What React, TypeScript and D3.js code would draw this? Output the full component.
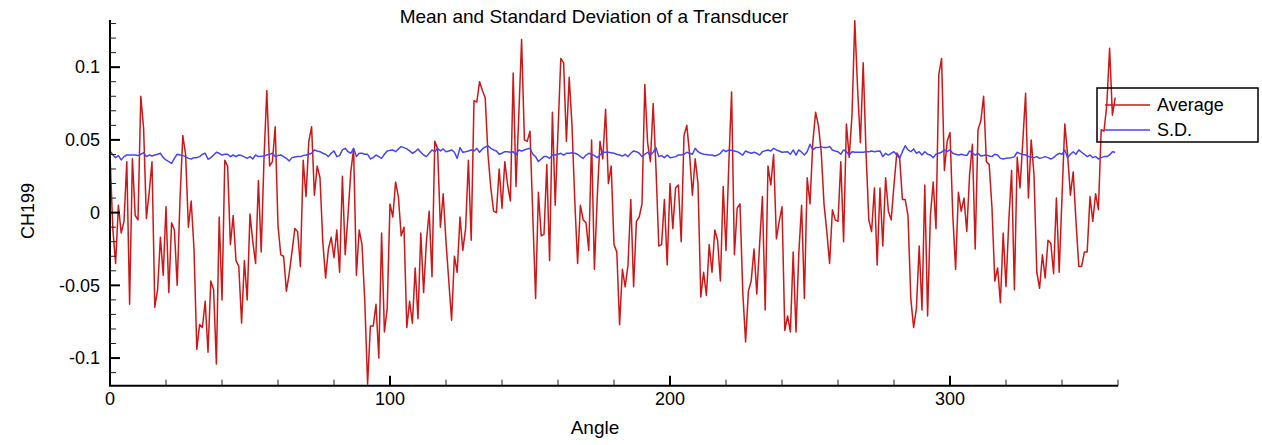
import { useEffect, useRef } from 'react';
import * as d3 from 'd3';

// one sample per degree, 0..359
const angles = d3.range(0, 360);

const average = [
  0.040, -0.011, -0.035, 0.005, -0.014, -0.006, 0.035, -0.063, 0.037, -0.002,
  -0.005, 0.080, 0.058, -0.004, 0.014, 0.035, -0.065, -0.053, -0.017, -0.043,
  0.004, -0.055, -0.007, -0.012, -0.050, 0.009, 0.053, 0.040, -0.010, 0.008,
  -0.025, -0.094, -0.077, -0.079, -0.061, -0.096, -0.047, -0.053, -0.104, -0.003,
  -0.060, 0.036, 0.032, -0.022, -0.002, -0.033, -0.037, -0.076, -0.033, -0.060,
  -0.001, -0.020, -0.035, 0.022, -0.027, 0.037, 0.084, 0.032, 0.035, 0.059,
  -0.009, -0.029, -0.030, -0.054, -0.042, -0.027, -0.011, -0.013, -0.037, 0.036,
  0.011, 0.049, 0.059, 0.012, 0.032, 0.024, -0.020, -0.045, -0.025, -0.017,
  -0.031, -0.012, -0.041, 0.025, -0.029, -0.002, 0.028, 0.044, -0.043, -0.012,
  -0.022, -0.061, -0.118, -0.078, -0.078, -0.063, -0.100, -0.014, -0.082, -0.066,
  0.006, -0.003, 0.021, 0.011, -0.016, -0.010, -0.079, -0.061, -0.076, -0.038,
  -0.073, -0.014, -0.055, -0.020, 0.001, -0.044, 0.049, 0.044, -0.010, 0.013,
  -0.020, -0.047, -0.074, -0.030, -0.041, -0.003, -0.026, -0.011, 0.036, -0.019,
  0.077, 0.076, 0.090, 0.084, 0.079, 0.040, 0.017, 0.001, 0.000, 0.030,
  0.003, 0.035, 0.019, 0.008, 0.096, 0.018, 0.067, 0.119, 0.050, 0.049,
  0.056, -0.002, -0.059, 0.014, -0.016, -0.015, 0.033, -0.033, 0.069, 0.005,
  0.056, 0.106, 0.103, 0.049, 0.093, 0.060, 0.008, -0.035, 0.005, -0.005,
  -0.007, -0.026, 0.050, -0.039, 0.010, 0.049, 0.037, 0.071, 0.020, 0.032,
  -0.022, -0.027, -0.077, -0.039, -0.051, -0.036, 0.009, -0.051, -0.006, -0.003,
  0.006, 0.088, 0.048, 0.035, 0.075, 0.030, -0.023, -0.022, 0.009, -0.036,
  0.020, -0.011, 0.017, 0.019, -0.020, 0.053, 0.060, 0.040, 0.012, 0.037,
  0.020, -0.058, -0.041, -0.057, -0.022, -0.041, -0.012, -0.019, -0.047, 0.018,
  -0.026, 0.033, 0.083, -0.029, 0.003, 0.006, -0.055, -0.089, -0.054, -0.047,
  -0.025, -0.056, -0.022, 0.011, -0.067, 0.032, 0.019, 0.040, -0.018, -0.006,
  0.004, -0.081, -0.071, -0.082, -0.027, -0.082, -0.028, 0.005, -0.059, 0.024,
  0.006, 0.048, 0.069, 0.060, 0.042, 0.006, -0.013, -0.035, 0.002, -0.005,
  -0.006, 0.035, -0.020, 0.061, 0.038, 0.067, 0.132, 0.085, 0.048, 0.103,
  0.042, -0.005, -0.013, 0.017, -0.036, 0.017, -0.023, 0.024, 0.001, -0.005,
  0.019, 0.041, 0.038, 0.009, 0.009, -0.002, -0.059, -0.079, -0.066, -0.023,
  -0.067, 0.019, -0.071, -0.002, 0.021, -0.011, 0.095, 0.106, 0.029, 0.049,
  0.055, -0.002, -0.039, 0.014, 0.001, 0.010, -0.013, 0.026, 0.047, -0.025,
  0.057, 0.063, 0.080, 0.035, 0.033, 0.003, -0.047, -0.038, -0.062, -0.014,
  -0.051, -0.006, 0.029, -0.053, 0.038, 0.017, 0.049, 0.082, 0.010, 0.050,
  0.026, -0.041, -0.052, -0.029, -0.045, -0.019, -0.021, -0.042, 0.010, -0.041,
  0.011, 0.061, 0.040, 0.012, 0.028, -0.006, -0.037, -0.037, -0.027, -0.027,
  0.011, -0.006, 0.013, 0.002, 0.057, 0.056, 0.074, 0.113, 0.067, 0.079,
];

const sd = [
  0.0424, 0.0396, 0.0378, 0.0392, 0.0362, 0.0385, 0.0396, 0.0396, 0.0396, 0.0396,
  0.0392, 0.0401, 0.0412, 0.0385, 0.0396, 0.0389, 0.0396, 0.0401, 0.0408, 0.0378,
  0.0362, 0.0351, 0.0339, 0.0373, 0.0401, 0.0396, 0.0392, 0.0385, 0.0373, 0.0369,
  0.0378, 0.0378, 0.0385, 0.0401, 0.0408, 0.0367, 0.0378,
  0.0396, 0.0415, 0.0408, 0.0396, 0.0401, 0.0401, 0.0385, 0.0396, 0.0385, 0.0396,
  0.0392, 0.0383, 0.0373, 0.0385, 0.0369, 0.0396, 0.0385, 0.0387, 0.0389, 0.0396,
  0.0401, 0.0408, 0.0385, 0.0392, 0.0396, 0.0385, 0.0373, 0.0355, 0.0378, 0.0383,
  0.0385, 0.0385, 0.0392, 0.0396, 0.0401, 0.0408,
  0.0431, 0.0424, 0.0419, 0.0408, 0.0401, 0.0385, 0.0408, 0.0424, 0.0385, 0.0392,
  0.0431, 0.0442, 0.0419, 0.0408, 0.0442, 0.0385, 0.0408, 0.0408, 0.0401, 0.0401,
  0.0369, 0.0378, 0.0396, 0.0385, 0.0373, 0.0401, 0.0424, 0.0428, 0.0431, 0.0419,
  0.0438, 0.0454, 0.0447, 0.0438, 0.0424, 0.0408, 0.0419,
  0.0438, 0.0415, 0.0396, 0.0385, 0.0408, 0.0431, 0.0419, 0.0442, 0.0424, 0.0438,
  0.0419, 0.0424, 0.0431, 0.0415, 0.0373, 0.0447, 0.0415, 0.0419, 0.0424, 0.0431,
  0.0424, 0.0442, 0.0415, 0.0438, 0.0451, 0.0460, 0.0442, 0.0431, 0.0424, 0.0401,
  0.0408, 0.0419, 0.0419, 0.0415, 0.0419,
  0.0396, 0.0431, 0.0424, 0.0431, 0.0438, 0.0442, 0.0401, 0.0385, 0.0351, 0.0369,
  0.0385, 0.0385, 0.0373, 0.0396, 0.0396, 0.0401, 0.0408, 0.0396, 0.0408, 0.0408,
  0.0412, 0.0408, 0.0401, 0.0385, 0.0373, 0.0396, 0.0408, 0.0401, 0.0392, 0.0378,
  0.0396, 0.0415, 0.0415, 0.0415, 0.0412, 0.0408, 0.0401, 0.0396,
  0.0389, 0.0401, 0.0385, 0.0408, 0.0424, 0.0419, 0.0408, 0.0385, 0.0401, 0.0415,
  0.0396, 0.0415, 0.0447, 0.0385, 0.0392, 0.0378, 0.0396, 0.0378, 0.0380, 0.0385,
  0.0396, 0.0396, 0.0401, 0.0415, 0.0408, 0.0401, 0.0442, 0.0419, 0.0408, 0.0401,
  0.0399, 0.0396, 0.0396, 0.0389, 0.0396, 0.0408,
  0.0431, 0.0419, 0.0431, 0.0428, 0.0424, 0.0419, 0.0408, 0.0396, 0.0424, 0.0415,
  0.0408, 0.0415, 0.0408, 0.0396, 0.0419, 0.0426, 0.0431, 0.0424, 0.0442, 0.0431,
  0.0424, 0.0415, 0.0417, 0.0419, 0.0401, 0.0431, 0.0396, 0.0431, 0.0415, 0.0396,
  0.0419, 0.0470, 0.0431, 0.0447, 0.0447, 0.0454, 0.0447,
  0.0447, 0.0454, 0.0431, 0.0424, 0.0419, 0.0401, 0.0431, 0.0419, 0.0396, 0.0419,
  0.0415, 0.0415, 0.0415, 0.0415, 0.0419, 0.0419, 0.0424, 0.0419, 0.0422, 0.0424,
  0.0385, 0.0408, 0.0396, 0.0408, 0.0419, 0.0396, 0.0373, 0.0419, 0.0460, 0.0431,
  0.0419, 0.0438, 0.0408, 0.0419, 0.0396, 0.0419,
  0.0401, 0.0396, 0.0378, 0.0401, 0.0408, 0.0415, 0.0431, 0.0419, 0.0431, 0.0408,
  0.0401, 0.0396, 0.0401, 0.0396, 0.0392, 0.0424, 0.0410, 0.0396, 0.0408, 0.0389,
  0.0392, 0.0396, 0.0389, 0.0385, 0.0401, 0.0396, 0.0373, 0.0369, 0.0373, 0.0376,
  0.0378, 0.0385, 0.0415, 0.0406, 0.0399, 0.0396,
  0.0385, 0.0383, 0.0378, 0.0385, 0.0373, 0.0378, 0.0385, 0.0378, 0.0369, 0.0378,
  0.0396, 0.0408, 0.0401, 0.0431, 0.0378, 0.0401, 0.0419, 0.0401, 0.0431, 0.0415,
  0.0401, 0.0385, 0.0396, 0.0378, 0.0385, 0.0369, 0.0378, 0.0385, 0.0385, 0.0396,
  0.0419, 0.0415,
];

const seriesNames = ['Average', 'S.D.'];
const seriesColors = ['#cc1818', '#4646f2'];
const yTicks = [0.1, 0.05, 0, -0.05, -0.1];
const xTicks = [0, 100, 200, 300];

const title = 'Mean and Standard Deviation of a Transducer';
const xTitle = 'Angle';
const yTitle = 'CH199';

const width = 1262;
const height = 445;
const font = '"Liberation Sans", Arial, sans-serif';

export default function App() {
  const svgRef = useRef<SVGSVGElement>(null);

  useEffect(() => {
    const svg = d3.select(svgRef.current);
    svg.selectAll('*').remove();

    const x = d3.scaleLinear().domain([0, 360]).range([110, 1118]);
    const y = d3.scaleLinear().domain([-0.119, 0.1325]).range([385.7, 19.9]);
    const [y0, y1] = y.range();

    const g = svg.append('g').style('font-family', font);

    // series
    const line = d3.line<number>()
      .x((_, i) => x(angles[i]))
      .y(d => y(d));

    [average, sd].forEach((vals, k) => {
      g.append('path')
        .datum(vals)
        .attr('d', line)
        .attr('fill', 'none')
        .attr('stroke', seriesColors[k])
        .attr('stroke-width', 1.5)
        .attr('stroke-linejoin', 'round');
    });

    // axes lines
    g.append('line')
      .attr('x1', x(0)).attr('x2', x(0))
      .attr('y1', y1).attr('y2', y0)
      .attr('stroke', '#000').attr('stroke-width', 2);
    g.append('line')
      .attr('x1', x(0) - 1).attr('x2', x(360))
      .attr('y1', y0).attr('y2', y0)
      .attr('stroke', '#000').attr('stroke-width', 2);

    // y ticks (inward)
    const yMinor = d3.range(-11, 14).filter(i => i % 5 !== 0).map(i => i / 100);
    g.selectAll('.ymin').data(yMinor).enter().append('line')
      .attr('x1', x(0)).attr('x2', x(0) + 6)
      .attr('y1', d => y(d)).attr('y2', d => y(d))
      .attr('stroke', '#222').attr('stroke-width', 1);
    g.selectAll('.ymaj').data(yTicks).enter().append('line')
      .attr('x1', x(0)).attr('x2', x(0) + 10)
      .attr('y1', d => y(d)).attr('y2', d => y(d))
      .attr('stroke', '#000').attr('stroke-width', 2);
    g.selectAll('.ylab').data(yTicks).enter().append('text')
      .attr('x', x(0) - 10)
      .attr('y', d => y(d))
      .attr('dy', '0.35em')
      .attr('text-anchor', 'end')
      .style('font-size', '18px')
      .text(d => String(d));

    // x ticks (inward)
    const xMinor = d3.range(20, 361, 20).filter(v => v % 100 !== 0);
    g.selectAll('.xmin').data(xMinor).enter().append('line')
      .attr('x1', d => x(d)).attr('x2', d => x(d))
      .attr('y1', y0).attr('y2', y0 - 6)
      .attr('stroke', '#222').attr('stroke-width', 1);
    g.selectAll('.xmaj').data(xTicks).enter().append('line')
      .attr('x1', d => x(d)).attr('x2', d => x(d))
      .attr('y1', y0).attr('y2', y0 - 10)
      .attr('stroke', '#000').attr('stroke-width', 2);
    g.selectAll('.xlab').data(xTicks).enter().append('text')
      .attr('x', d => x(d))
      .attr('y', 405)
      .attr('text-anchor', 'middle')
      .style('font-size', '18px')
      .text(d => String(d));

    // titles
    g.append('text')
      .attr('x', 594).attr('y', 23)
      .attr('text-anchor', 'middle')
      .style('font-size', '19px')
      .text(title);
    g.append('text')
      .attr('x', 595).attr('y', 434)
      .attr('text-anchor', 'middle')
      .style('font-size', '19px')
      .text(xTitle);
    g.append('text')
      .attr('transform', 'translate(34,211) rotate(-90)')
      .attr('text-anchor', 'middle')
      .style('font-size', '18px')
      .text(yTitle);

    // legend
    const lg = g.append('g');
    lg.append('rect')
      .attr('x', 1097).attr('y', 88)
      .attr('width', 161).attr('height', 54)
      .attr('fill', 'none')
      .attr('stroke', '#000').attr('stroke-width', 1.5);
    seriesNames.forEach((name, i) => {
      const ly = 105 + i * 25;
      lg.append('line')
        .attr('x1', 1105).attr('x2', 1150)
        .attr('y1', ly).attr('y2', ly)
        .attr('stroke', seriesColors[i]).attr('stroke-width', 1.5);
      lg.append('text')
        .attr('x', 1157).attr('y', ly + 6)
        .style('font-size', '18px')
        .text(name);
    });
  }, []);

  return (
    <svg
      ref={svgRef}
      width={width}
      height={height}
      style={{ position: 'absolute', left: 0, top: 0, background: '#fff' }}
    />
  );
}
